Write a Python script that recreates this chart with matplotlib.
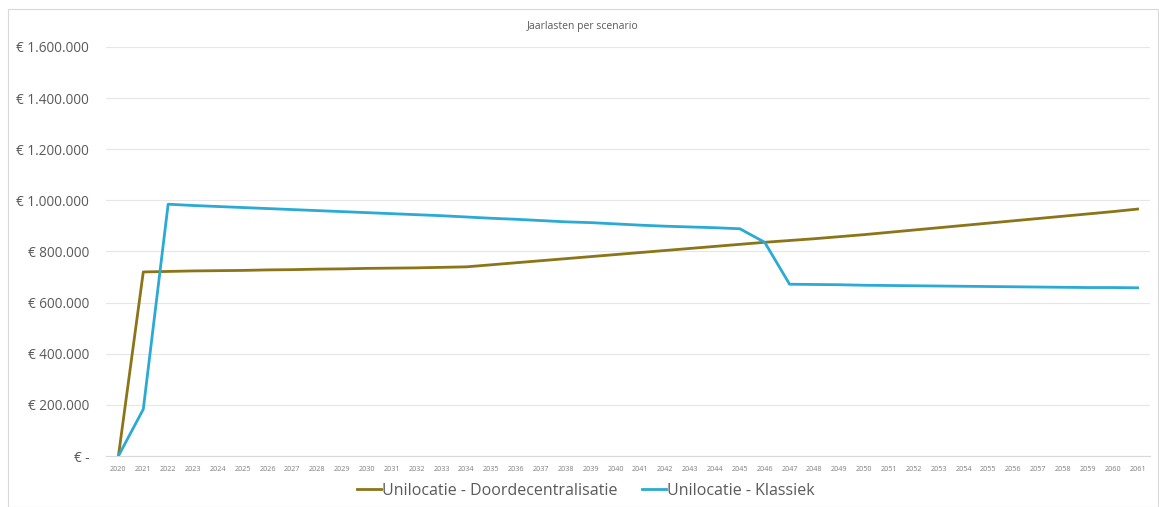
import matplotlib
matplotlib.use("Agg")
import matplotlib.pyplot as plt
from matplotlib.patches import Rectangle
from matplotlib.ticker import FuncFormatter, MultipleLocator

plt.rcParams['font.family'] = ['Open Sans', 'DejaVu Sans']

years = list(range(2020, 2062))

# Jaarlasten in euro
doordecentralisatie = [
    0, 720000, 722000, 724000, 725000, 726000, 728000, 729000, 731000, 732000,
    734000, 735000, 736000, 738000, 740000, 748000, 756000, 764000, 772000, 780000,
    788000, 796000, 804000, 812000, 820000, 828000, 836000, 843000, 850000, 858000,
    866000, 875000, 884000, 893000, 902000, 911000, 920000, 929000, 938000, 947000,
    956000, 966000,
]
klassiek = [
    0, 183000, 985000, 980000, 976000, 972000, 968000, 964000, 960000, 956000,
    952000, 948000, 944000, 940000, 935000, 930000, 926000, 921000, 916000, 913000,
    908000, 903000, 899000, 896000, 893000, 889000, 836000, 672000, 671000, 670000,
    668000, 667000, 666000, 665000, 664000, 663000, 662000, 661000, 660000, 659000,
    659000, 658000,
]

series_names = ["Unilocatie - Doordecentralisatie", "Unilocatie - Klassiek"]
series_colors = ["#8c7418", "#2aaad4"]

W, H = 1159, 507
fig = plt.figure(figsize=(W / 100, H / 100), dpi=100)
fig.patch.set_facecolor("white")

# chart frame
fig.add_artist(Rectangle((8 / W, 0), (W - 9) / W, (H - 9) / H, transform=fig.transFigure,
                         fill=False, edgecolor="#d9d9d9", linewidth=0.8))

ax = fig.add_axes([106 / W, (H - 456) / H, (1150 - 106) / W, (456 - 47) / H])
ax.plot(years, doordecentralisatie, color=series_colors[0], linewidth=2.0,
        label=series_names[0], solid_joinstyle="round")
ax.plot(years, klassiek, color=series_colors[1], linewidth=2.0,
        label=series_names[1], solid_joinstyle="round")

ax.set_xlim(2019.5, 2061.5)
ax.set_ylim(0, 1600000)
ax.yaxis.set_major_locator(MultipleLocator(200000))


def euro(v, pos):
    if v == 0:
        return "€ -"
    return "€ " + f"{int(v):,}".replace(",", ".")


ax.yaxis.set_major_formatter(FuncFormatter(euro))
ax.set_xticks(years)
ax.set_xticklabels([str(y) for y in years], fontsize=5.2, color="#7f7f7f")
ax.tick_params(axis="x", length=0, pad=7)
ax.tick_params(axis="y", length=0, pad=12, labelsize=9.8, labelcolor="#595959")

ax.grid(axis="y", color="#e6e6e6", linewidth=0.8)
ax.set_axisbelow(True)
for side in ["top", "right", "left"]:
    ax.spines[side].set_visible(False)
ax.spines["bottom"].set_color("#d9d9d9")
ax.spines["bottom"].set_linewidth(0.8)

fig.text(583 / W, 1 - 26 / H, "Jaarlasten per scenario", ha="center", va="center",
         fontsize=7.5, color="#595959")

leg = fig.legend(loc="center", bbox_to_anchor=(586 / W, 1 - 491 / H), ncol=2,
                 frameon=False, fontsize=11.5, handlelength=1.5, handletextpad=0.1,
                 columnspacing=1.5, labelcolor="#595959")

fig.savefig("out.png", dpi=100)
